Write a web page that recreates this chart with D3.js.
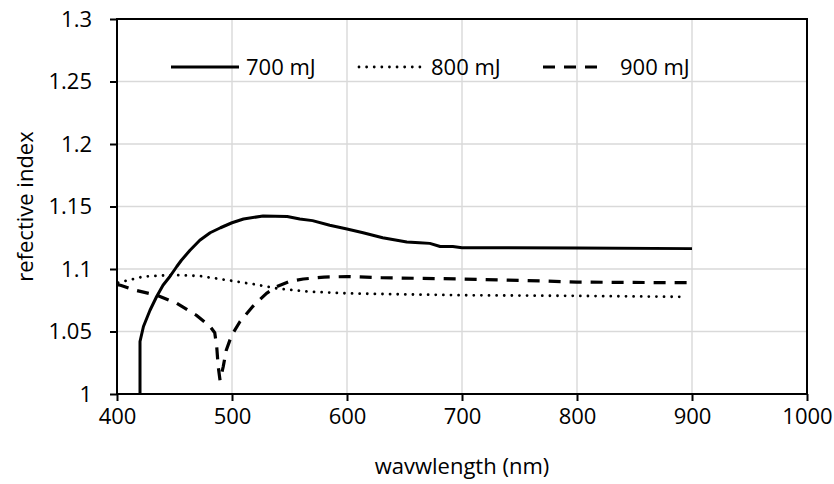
<!DOCTYPE html>
<html>
<head>
<meta charset="utf-8">
<script src="https://cdn.jsdelivr.net/npm/d3@7"></script>
<style>
  html, body { margin: 0; padding: 0; background: #fff; }
  svg { display: block; font-family: "Open Sans", "Noto Sans", sans-serif; }
</style>
</head>
<body>
<svg id="chart" width="834" height="484"></svg>
<script>
// Refractive index vs. wavelength for three pulse energies
const wavelength700 = [420, 420, 423, 428.7, 434.5, 440, 446, 452, 456, 463.5, 472, 481, 490, 500, 510, 527, 548, 559, 570, 585, 600, 614, 631, 652, 663, 672, 681, 692, 700, 800, 900];
const index700      = [1.0, 1.042, 1.054, 1.067, 1.078, 1.087, 1.094, 1.102, 1.107, 1.115, 1.123, 1.129, 1.133, 1.137, 1.140, 1.1424, 1.142, 1.140, 1.1387, 1.135, 1.132, 1.129, 1.125, 1.1216, 1.121, 1.1205, 1.118, 1.118, 1.117, 1.1168, 1.1163];

const wavelength800 = [401, 423, 449, 472, 495, 518, 539, 565, 600, 630, 700, 800, 895];
const index800      = [1.089, 1.094, 1.0952, 1.0944, 1.0912, 1.088, 1.0845, 1.082, 1.0805, 1.080, 1.079, 1.0785, 1.0777];

const wavelength900 = [400, 403, 416, 434.5, 452, 469, 481, 485, 486.7, 488, 489.6, 492.4, 495, 499.7, 507, 518, 530, 539, 550, 562, 580, 600, 630, 700, 770, 800, 900];
const index900      = [1.0875, 1.087, 1.083, 1.079, 1.0725, 1.063, 1.054, 1.049, 1.038, 1.022, 1.011, 1.022, 1.035, 1.047, 1.058, 1.070, 1.0805, 1.086, 1.090, 1.092, 1.0935, 1.094, 1.093, 1.092, 1.0905, 1.0895, 1.089];

const seriesNames = ["700 mJ", "800 mJ", "900 mJ"];
const xTicks = [400, 500, 600, 700, 800, 900, 1000];
const yTicks = [1, 1.05, 1.1, 1.15, 1.2, 1.25, 1.3];

const series = [
  { name: seriesNames[0], x: wavelength700, y: index700, dash: null,    width: 3 },
  { name: seriesNames[1], x: wavelength800, y: index800, dash: "0.01,7.6", width: 2.8, cap: "round" },
  { name: seriesNames[2], x: wavelength900, y: index900, dash: "12,9",  width: 3.2 }
];

const svg = d3.select("#chart");
const m = { left: 117, right: 807, top: 19, bottom: 394 };
const fontSize = "22px";

const x = d3.scaleLinear().domain([400, 1000]).range([m.left, m.right]);
const y = d3.scaleLinear().domain([1, 1.3]).range([m.bottom, m.top]);

// gridlines
const grid = svg.append("g").attr("stroke", "#d9d9d9").attr("stroke-width", 1.4);
grid.selectAll("line.v").data(xTicks.slice(1, -1)).join("line")
  .attr("x1", d => x(d)).attr("x2", d => x(d))
  .attr("y1", m.top).attr("y2", m.bottom);
grid.selectAll("line.h").data(yTicks.slice(1, -1)).join("line")
  .attr("x1", m.left).attr("x2", m.right)
  .attr("y1", d => y(d)).attr("y2", d => y(d));

// curves
const plot = svg.append("g");
series.forEach(s => {
  const pts = s.x.map((v, i) => [v, s.y[i]]);
  plot.append("path")
    .datum(pts)
    .attr("fill", "none")
    .attr("stroke", "#000")
    .attr("stroke-width", s.width)
    .attr("stroke-linejoin", "round")
    .attr("stroke-linecap", s.cap || "butt")
    .attr("stroke-dasharray", s.dash)
    .attr("d", d3.line().x(d => x(d[0])).y(d => y(d[1])));
});

// frame
svg.append("rect")
  .attr("x", m.left).attr("y", m.top)
  .attr("width", m.right - m.left).attr("height", m.bottom - m.top)
  .attr("fill", "none").attr("stroke", "#000").attr("stroke-width", 2);

// axes
const xAxis = svg.append("g")
  .attr("transform", `translate(0,${m.bottom})`)
  .call(d3.axisBottom(x).tickValues(xTicks).tickSize(7).tickPadding(7).tickFormat(d3.format("d")));
const yAxis = svg.append("g")
  .attr("transform", `translate(${m.left},0)`)
  .call(d3.axisLeft(y).tickValues(yTicks).tickSize(7).tickPadding(18).tickFormat(d => String(d)));

[xAxis, yAxis].forEach(a => {
  a.select(".domain").remove();
  a.selectAll(".tick line").attr("stroke", "#000").attr("stroke-width", 2);
  a.selectAll(".tick text")
    .attr("fill", "#000")
    .style("font-family", "'Open Sans', sans-serif")
    .style("font-size", fontSize);
});

// axis titles
svg.append("text")
  .attr("x", (m.left + m.right) / 2).attr("y", 474)
  .attr("text-anchor", "middle")
  .style("font-size", fontSize)
  .text("wavwlength (nm)");

svg.append("text")
  .attr("transform", `translate(33,${(m.top + m.bottom) / 2}) rotate(-90)`)
  .attr("text-anchor", "middle")
  .style("font-size", fontSize)
  .text("refective index");

// legend
const legendItems = [
  { x1: 171, x2: 239, tx: 246 },
  { x1: 359, x2: 421, tx: 431 },
  { x1: 543, x2: 605, tx: 620 }
];
const legendY = 67;
const lg = svg.append("g");
series.forEach((s, i) => {
  const L = legendItems[i];
  lg.append("line")
    .attr("x1", L.x1).attr("x2", L.x2)
    .attr("y1", legendY).attr("y2", legendY)
    .attr("stroke", "#000")
    .attr("stroke-width", s.width)
    .attr("stroke-linecap", s.cap || "butt")
    .attr("stroke-dasharray", s.dash);
  lg.append("text")
    .attr("x", L.tx).attr("y", legendY)
    .attr("dy", "0.35em")
    .style("font-size", fontSize)
    .text(s.name);
});
</script>
</body>
</html>
